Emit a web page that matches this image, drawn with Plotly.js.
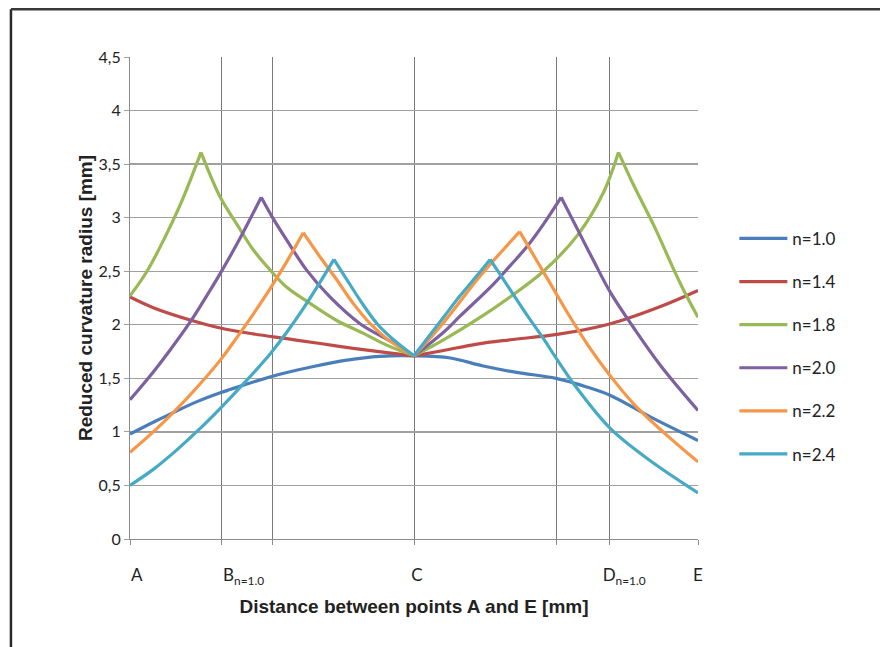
<!DOCTYPE html>
<html>
<head>
<meta charset="utf-8">
<script src="https://cdn.plot.ly/plotly-3.0.1.min.js"></script>
<style>html,body{margin:0;padding:0;background:#fff;}#chart{width:880px;height:647px;}</style>
</head>
<body>
<div id="chart"></div>
<script>
// Positions along A–E expressed as fraction of the distance (A=0, E=1)
var seriesNames = ["n=1.0", "n=1.4", "n=1.8", "n=2.0", "n=2.2", "n=2.4"];
var seriesColors = ["#4A7EBB", "#BE4B48", "#98B954", "#7D60A0", "#F79646", "#46AAC5"];
var seriesHasCusps = [false, true, true, true, true, true];

var x_n10 = [0, 0.041, 0.076, 0.117, 0.159, 0.176, 0.251, 0.323, 0.382, 0.44, 0.5, 0.564, 0.622, 0.681, 0.75, 0.804, 0.846, 0.916, 1.0];
var y_n10 = [0.98, 1.09, 1.18, 1.28, 1.365, 1.395, 1.52, 1.61, 1.67, 1.705, 1.71, 1.69, 1.615, 1.555, 1.50, 1.42, 1.34, 1.14, 0.92];

var x_n14 = [0, 0.041, 0.109, 0.159, 0.217, 0.276, 0.335, 0.393, 0.452, 0.5, 0.552, 0.611, 0.669, 0.752, 0.846, 0.934, 1.0];
var y_n14 = [2.26, 2.16, 2.04, 1.97, 1.915, 1.87, 1.825, 1.78, 1.74, 1.71, 1.76, 1.82, 1.86, 1.91, 2.01, 2.17, 2.32];

var x_n18 = [0, 0.03, 0.06, 0.09, 0.125, 0.159, 0.188, 0.217, 0.247, 0.276, 0.317, 0.364, 0.411, 0.452, 0.5, 0.552, 0.611, 0.669, 0.728, 0.787, 0.834, 0.860, 0.887, 0.922, 0.957, 0.975, 1.0];
var y_n18 = [2.27, 2.50, 2.80, 3.14, 3.61, 3.19, 2.94, 2.70, 2.51, 2.35, 2.20, 2.04, 1.92, 1.81, 1.71, 1.86, 2.05, 2.26, 2.50, 2.83, 3.24, 3.61, 3.30, 2.93, 2.52, 2.32, 2.07];

var x_n20 = [0, 0.041, 0.070, 0.109, 0.135, 0.159, 0.194, 0.231, 0.25, 0.276, 0.311, 0.352, 0.405, 0.464, 0.5, 0.552, 0.581, 0.640, 0.669, 0.699, 0.728, 0.759, 0.787, 0.816, 0.846, 0.887, 0.934, 1.0];
var y_n20 = [1.30, 1.56, 1.76, 2.05, 2.27, 2.48, 2.81, 3.19, 3.01, 2.79, 2.51, 2.26, 2.01, 1.83, 1.71, 1.93, 2.08, 2.38, 2.55, 2.73, 2.94, 3.19, 2.90, 2.60, 2.30, 1.97, 1.62, 1.20];

var x_n22 = [0, 0.041, 0.076, 0.117, 0.159, 0.188, 0.217, 0.247, 0.276, 0.305, 0.335, 0.364, 0.393, 0.423, 0.452, 0.5, 0.552, 0.611, 0.640, 0.669, 0.686, 0.716, 0.746, 0.775, 0.810, 0.846, 0.887, 0.945, 1.0];
var y_n22 = [0.81, 1.00, 1.18, 1.41, 1.67, 1.88, 2.10, 2.34, 2.59, 2.86, 2.63, 2.42, 2.20, 2.01, 1.87, 1.71, 2.02, 2.42, 2.60, 2.77, 2.87, 2.60, 2.33, 2.07, 1.78, 1.52, 1.26, 0.97, 0.72];

var x_n24 = [0, 0.041, 0.082, 0.123, 0.159, 0.2, 0.247, 0.276, 0.305, 0.335, 0.359, 0.382, 0.405, 0.435, 0.464, 0.5, 0.523, 0.552, 0.581, 0.611, 0.634, 0.669, 0.699, 0.728, 0.75, 0.781, 0.846, 0.916, 1.0];
var y_n24 = [0.50, 0.65, 0.83, 1.03, 1.22, 1.45, 1.73, 1.93, 2.15, 2.40, 2.61, 2.42, 2.23, 2.01, 1.86, 1.71, 1.87, 2.07, 2.27, 2.46, 2.61, 2.33, 2.09, 1.87, 1.69, 1.45, 1.03, 0.73, 0.43];

var xTickLabels = ["A", "B<sub>n=1.0</sub>", "C", "D<sub>n=1.0</sub>", "E"];
var xTickLabelPos = [0.012, 0.2, 0.505, 0.87, 1.0];
var xGridPos = [0, 0.1615, 0.25, 0.5, 0.75, 0.845, 1.0];

var xs = [x_n10, x_n14, x_n18, x_n20, x_n22, x_n24];
var ys = [y_n10, y_n14, y_n18, y_n20, y_n22, y_n24];

// split cusped curves where the slope changes sign, so peaks stay sharp while segments are smoothed
var traces = [];
seriesNames.forEach(function (name, i) {
  var x = xs[i], y = ys[i];
  var cuts = [0];
  if (seriesHasCusps[i]) {
    for (var k = 1; k < y.length - 1; k++) {
      if ((y[k] - y[k - 1]) * (y[k + 1] - y[k]) < 0) cuts.push(k);
    }
  }
  cuts.push(y.length - 1);
  for (var s = 0; s < cuts.length - 1; s++) {
    traces.push({
      x: x.slice(cuts[s], cuts[s + 1] + 1),
      y: y.slice(cuts[s], cuts[s + 1] + 1),
      name: name, legendgroup: name, showlegend: s === 0,
      type: "scatter", mode: "lines",
      line: { color: seriesColors[i], width: 3.2, shape: "spline", smoothing: 1 }
    });
  }
});

var layout = {
  width: 880, height: 647,
  margin: { l: 130, r: 182, t: 57, b: 108 },
  paper_bgcolor: "#ffffff", plot_bgcolor: "#ffffff",
  separators: ",.",
  font: { family: "Lato, 'Open Sans', sans-serif", size: 16, color: "#222" },
  showlegend: true,
  legend: {
    x: 1.064, xanchor: "left", y: 0.66, yanchor: "top",
    font: { family: "Lato, sans-serif", size: 17, color: "#222" },
    itemwidth: 48,
    tracegroupgap: 18, bgcolor: "rgba(0,0,0,0)"
  },
  xaxis: {
    range: [0, 1], fixedrange: true,
    tickmode: "array", tickvals: xTickLabelPos, ticktext: xTickLabels,
    ticks: "", showgrid: false, zeroline: false,
    showline: true, linecolor: "#8c8c8c", linewidth: 1,
    ticklabelstandoff: 21,
    tickfont: { family: "Lato, sans-serif", size: 17, color: "#222" },
    minor: {
      tickmode: "array", tickvals: xGridPos,
      ticks: "outside", ticklen: 5, tickcolor: "#8c8c8c",
      showgrid: true, gridcolor: "#7a7a7a", gridwidth: 1
    },
    title: {
      text: "Distance between points A and E [mm]", standoff: 12,
      font: { family: "Liberation Sans, Arial, sans-serif", size: 19, color: "#222", weight: "bold" }
    }
  },
  yaxis: {
    range: [0, 4.5], fixedrange: true, dtick: 0.5, tick0: 0,
    showgrid: true, gridcolor: "#a0a0a0", gridwidth: 1.3,
    zeroline: false, showline: true, linecolor: "#8c8c8c", linewidth: 1,
    ticks: "outside", ticklen: 5, tickcolor: "#a0a0a0",
    tickfont: { family: "Lato, sans-serif", size: 16, color: "#222" },
    title: {
      text: "Reduced curvature radius [mm]", standoff: 0,
      font: { family: "Liberation Sans, Arial, sans-serif", size: 19, color: "#222", weight: "bold" }
    }
  },
  shapes: [
    { type: "line", xref: "paper", yref: "paper", x0: -0.2096, x1: -0.2096, y0: 1.099, y1: -0.25, line: { color: "#2a2a2a", width: 2.5 } },
    { type: "line", xref: "paper", yref: "paper", x0: -0.2096, x1: 1.35, y0: 1.099, y1: 1.099, line: { color: "#3a3a3a", width: 2.5 } }
  ]
};

Plotly.newPlot("chart", traces, layout, { staticPlot: true, displayModeBar: false });
</script>
</body>
</html>
